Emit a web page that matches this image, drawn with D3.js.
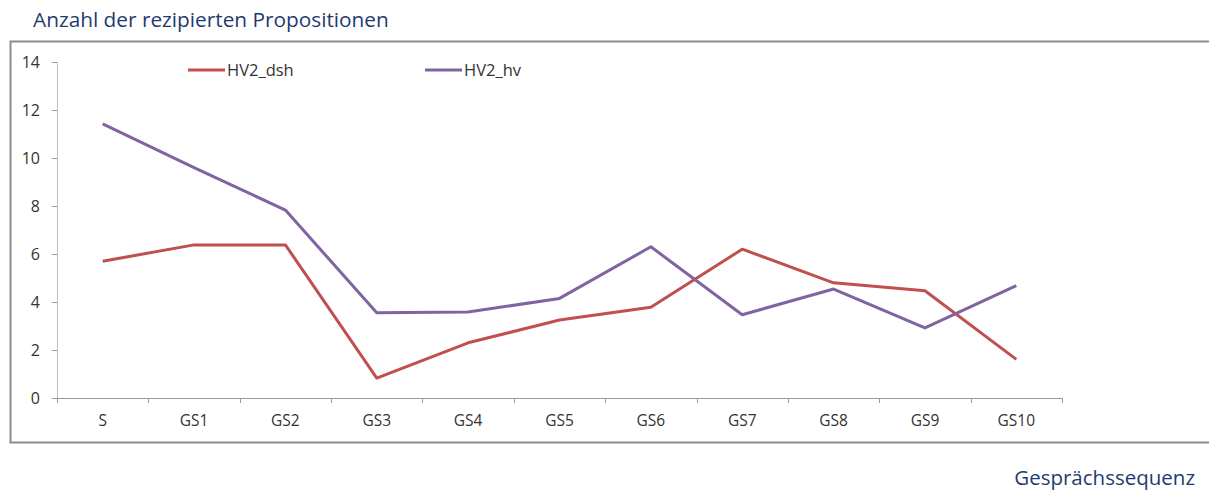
<!DOCTYPE html>
<html>
<head>
<meta charset="utf-8">
<script src="https://cdn.jsdelivr.net/npm/d3@7"></script>
<style>
	body { margin: 0; background: #fff; }
	svg text { font-family: "Open Sans", Lato, sans-serif; }
</style>
</head>
<body>
<div id="chart"></div>
<script>
let categories	= ["S", "GS1", "GS2", "GS3", "GS4", "GS5", "GS6", "GS7", "GS8", "GS9", "GS10"];
let dshValues	= [5.7, 6.38, 6.38, 0.83, 2.3, 3.25, 3.78, 6.2, 4.8, 4.47, 1.61];
let hvValues	= [11.42, 9.6, 7.83, 3.55, 3.58, 4.15, 6.3, 3.47, 4.54, 2.92, 4.68];
let yTicks		= [0, 2, 4, 6, 8, 10, 12, 14];

let series = [
	{ name: "HV2_dsh", values: dshValues, color: "#C0504D", legendX: 188 },
	{ name: "HV2_hv", values: hvValues, color: "#8064A2", legendX: 425 }
];

function createChart() {
	let canvasWidth		= 1209;
	let canvasHeight	= 490;

	let margin	= { top: 62, right: 147, bottom: 92, left: 57 };
	let width	= canvasWidth - margin.left - margin.right;
	let height	= canvasHeight - margin.top - margin.bottom;

	let svg = d3.select("#chart").append("svg")
		.attr("width", canvasWidth)
		.attr("height", canvasHeight);

	// title + outer frame
	svg.append("text")
		.attr("x", 33)
		.attr("y", 27)
		.attr("fill", "#1F3B70")
		.style("font-size", "20.8px")
		.text("Anzahl der rezipierten Propositionen");

	svg.append("rect")
		.attr("x", 10.5)
		.attr("y", 41.5)
		.attr("width", 1215)
		.attr("height", 401)
		.attr("fill", "none")
		.attr("stroke", "#8C8C8C")
		.attr("stroke-width", 2);

	svg.append("text")
		.attr("x", 1195)
		.attr("y", 485)
		.attr("text-anchor", "end")
		.attr("fill", "#1F3B70")
		.style("font-size", "20.5px")
		.text("Gesprächssequenz");

	let g = svg.append("g")
		.attr("transform", "translate(" + margin.left + "," + margin.top + ")");

	let x = d3.scaleBand()
		.domain(categories)
		.range([0, width]);

	let y = d3.scaleLinear()
		.domain([0, 14])
		.range([height, 0]);

	// y axis
	let yAxis = g.append("g")
		.call(d3.axisLeft(y).tickValues(yTicks).tickSize(5).tickPadding(12));
	yAxis.select(".domain").attr("stroke", "#BFBFBF").attr("d", "M0.5," + height + "V0");
	yAxis.selectAll(".tick line").attr("stroke", "#9A9A9A");
	yAxis.selectAll("text").attr("fill", "#333").style("font-size", "16px");

	// x axis, ticks on band edges
	let xAxis = g.append("g")
		.attr("transform", "translate(0," + height + ")")
		.call(d3.axisBottom(x).tickSize(0).tickPadding(17));
	xAxis.select(".domain").attr("stroke", "#9A9A9A").attr("d", "M0," + 0.5 + "H" + width);
	xAxis.selectAll("text").attr("fill", "#333").style("font-size", "15.5px");

	let edges = categories.map((c) => x(c)).concat([width]);
	xAxis.selectAll("line.edge")
		.data(edges)
		.enter().append("line")
		.attr("class", "edge")
		.attr("x1", (d) => Math.round(d) + 0.5)
		.attr("x2", (d) => Math.round(d) + 0.5)
		.attr("y1", 0)
		.attr("y2", 5)
		.attr("stroke", "#9A9A9A");

	let line = d3.line()
		.x((d, i) => x(categories[i]) + x.bandwidth() / 2)
		.y((d) => y(d));

	g.selectAll("path.series")
		.data(series)
		.enter().append("path")
		.attr("class", "series")
		.attr("d", (s) => line(s.values))
		.attr("fill", "none")
		.attr("stroke", (s) => s.color)
		.attr("stroke-width", 3)
		.attr("stroke-linejoin", "round");

	// legend
	let legend = svg.selectAll("g.legend")
		.data(series)
		.enter().append("g")
		.attr("class", "legend")
		.attr("transform", (s) => "translate(" + s.legendX + ",70)");

	legend.append("line")
		.attr("x1", 0)
		.attr("x2", 37)
		.attr("stroke", (s) => s.color)
		.attr("stroke-width", 3);

	legend.append("text")
		.attr("x", 39)
		.attr("y", 5.5)
		.attr("fill", "#333")
		.style("font-size", "16.5px")
		.text((s) => s.name);
}

createChart();
</script>
</body>
</html>
